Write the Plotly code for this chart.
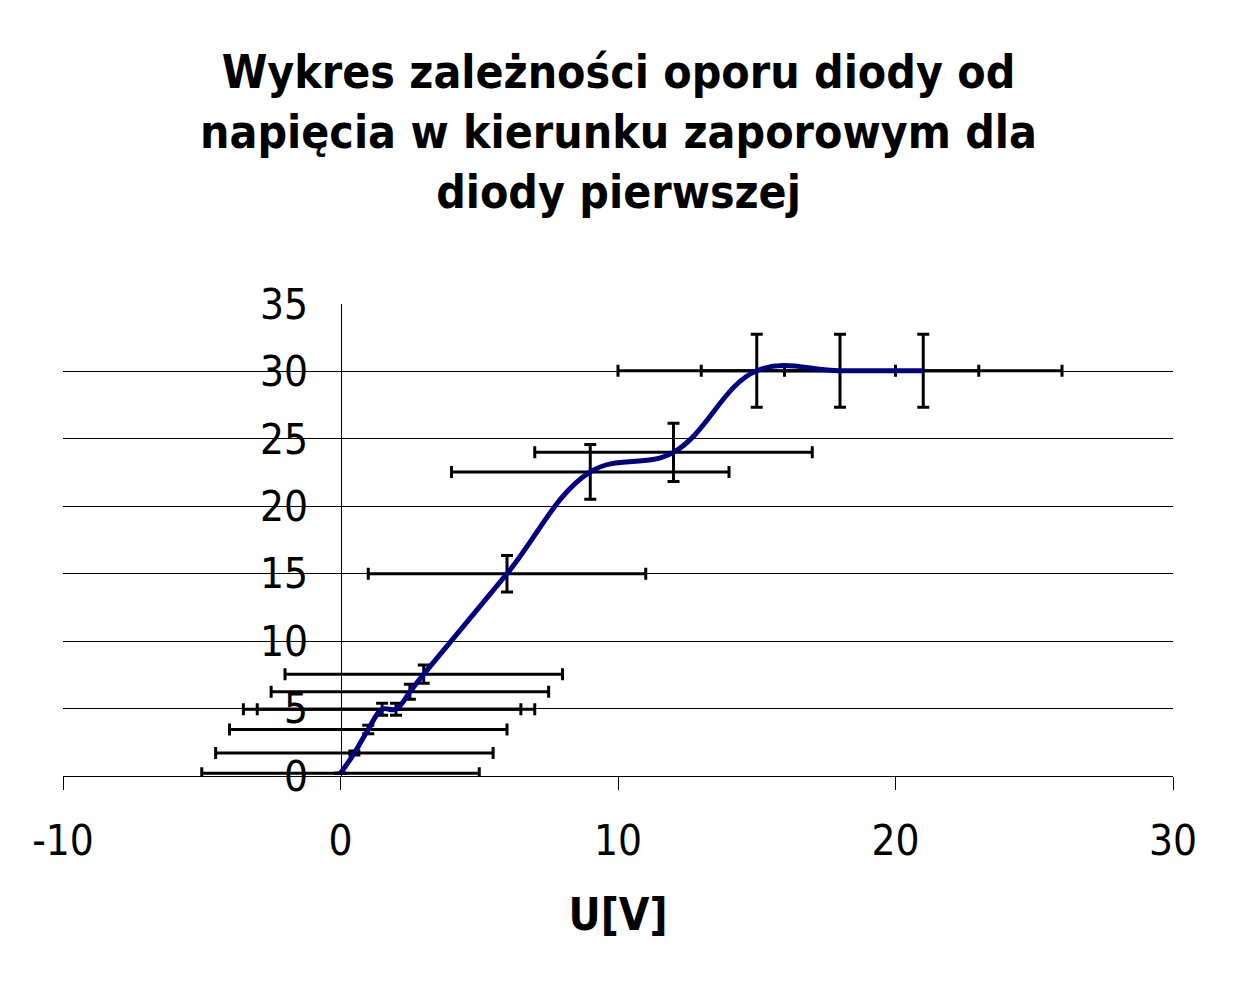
import plotly.graph_objects as go

# napięcie U[V] i opór R
u = [0, 0.5, 1, 1.5, 2, 2.5, 3, 6, 9, 12, 15, 18, 21]
r = [0.2, 1.7, 3.45, 4.95, 4.95, 6.25, 7.55, 15.0, 22.55, 24.0, 30.05, 30.05, 30.05]
u_err = [5, 5, 5, 5, 5, 5, 5, 5, 5, 5, 5, 5, 5]
r_err = [0.02, 0.15, 0.31, 0.45, 0.45, 0.56, 0.68, 1.35, 2.03, 2.16, 2.7, 2.7, 2.7]

x_ticks = [-10, 0, 10, 20, 30]
x_labels = ["-10", "0", "10", "20", "30"]

title = "Wykres zależności oporu diody od<br>napięcia w kierunku zaporowym dla<br>diody pierwszej"
font = "DejaVu Sans Condensed, DejaVu Sans"

fig = go.Figure()

fig.add_trace(go.Scatter(
    x=u, y=r, mode="markers", marker=dict(size=1, color="rgba(0,0,0,0)"),
    error_x=dict(type="data", array=u_err, color="black", thickness=3, width=6),
    error_y=dict(type="data", array=r_err, color="black", thickness=3, width=6),
    showlegend=False, hoverinfo="skip"))

fig.add_trace(go.Scatter(
    x=u, y=r, mode="lines", line=dict(color="#000080", width=5, shape="spline", smoothing=1.1),
    showlegend=False))

fig.update_layout(
    width=1221, height=967,
    paper_bgcolor="white", plot_bgcolor="white",
    margin=dict(l=55, r=56, t=296, b=199),
    font=dict(family=font, color="black"),
    title=dict(text=title, x=0.5, xanchor="center", y=0.917, yanchor="top", yref="container",
               font=dict(family=font, size=46, weight="bold")),
    xaxis=dict(range=[-10, 30], tickvals=x_ticks, ticktext=x_labels,
               showgrid=False, zeroline=False,
               showline=True, linecolor="black", linewidth=1,
               ticks="outside", ticklen=13, tickcolor="black", tickwidth=1,
               tickfont=dict(size=42), ticklabelstandoff=15,
               title=dict(text="<b>U[V]</b>", font=dict(size=44), standoff=34)),
    yaxis=dict(range=[0, 35], dtick=5, showgrid=True, gridcolor="black", gridwidth=1,
               zeroline=False, showline=True, linecolor="black", linewidth=1,
               anchor="free", position=0.25, ticks="",
               tickfont=dict(size=42), ticklabelstandoff=24),
)

fig.write_html("out.html")
